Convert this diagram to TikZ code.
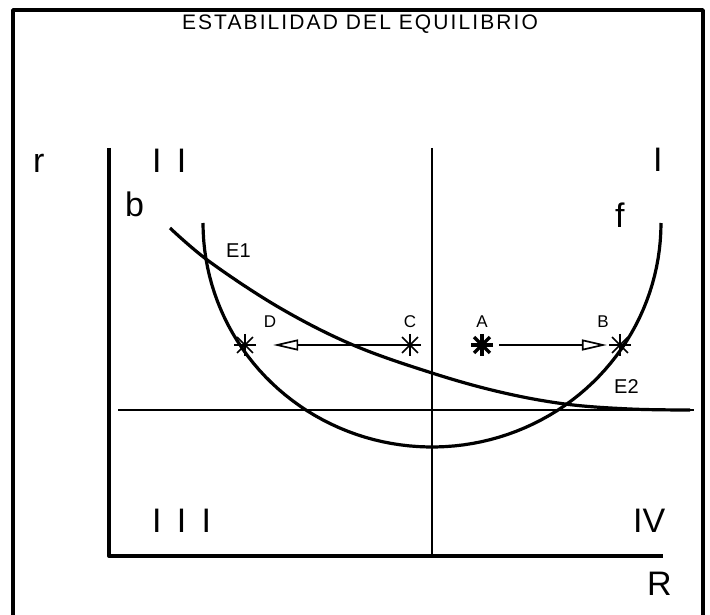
\documentclass[tikz,border=0pt]{standalone}
\usepackage{fontspec}
\setmainfont{Liberation Sans}
\newfontfamily\titlefont[LetterSpace=10]{Liberation Sans}
\newfontfamily\romanfont[LetterSpace=45]{Liberation Sans}
\usetikzlibrary{arrows.meta}
\begin{document}
\begin{tikzpicture}[x=1pt, y=-1pt, line join=round,
        curve/.style={line width=3.2pt},
        guide/.style={line width=1.7pt},
        star/.style={circle, inner sep=0pt, minimum size=22pt},
        ptlabel/.style={font=\fontsize{17}{17}\selectfont, inner sep=0pt},
        eqlabel/.style={font=\fontsize{20}{20}\selectfont, inner sep=0pt, anchor=base west},
        quadlabel/.style={font=\fontsize{34}{34}\romanfont, inner sep=0pt, anchor=base west},
        varlabel/.style={font=\fontsize{34}{34}\selectfont, inner sep=0pt, anchor=base west},
        push/.style={guide, -{Triangle[open, length=25pt, width=11pt, line width=1.7pt]}}]
    \useasboundingbox (0,0) rectangle (710,615);
    \draw[line width=3.5pt] (13,615) -- (13,10) -- (703,10) -- (703,615);
    \node[font=\fontsize{21}{21}\titlefont, inner sep=0pt] (title) at (360,24) {ESTABILIDAD DEL EQUILIBRIO};
    % axes and quadrants
    \draw[line width=4pt] (109,148) -- (109,556) -- (663,556);
    \draw[guide] (432,148) -- (432,556);
    \draw[guide] (118,410) -- (694,410);
    \node[varlabel] (r) at (33,173) {r};
    \node[varlabel] (R) at (647,595) {R};
    \node[quadlabel] (q2) at (152,173) {II};
    \node[quadlabel] (q1) at (653,172) {I};
    \node[quadlabel] (q3) at (152,532) {III};
    \node[varlabel] (q4) at (633,532) {IV};
    % curves
    \draw[curve] plot[domain=180:360, samples=80] ({432+229*cos(\x)}, {223-224*sin(\x)});
    \draw[curve] plot[smooth, tension=0.6] coordinates {(170,228) (210,262) (280,308) (353,345)
        (432,373) (500,392) (565,404) (630,409) (690,410)};
    \node[varlabel] (b) at (125,217) {b};
    \node[varlabel] (f) at (615,227) {f};
    \node[eqlabel] (E1) at (226,258) {E1};
    \node[eqlabel] (E2) at (614,393) {E2};
    % points
    \foreach \name/\x/\dx/\w in {D/245/25/1.7, C/410/0/1.7, A/482/0/3.4, B/620/-17/1.7} {
        \node[star] (\name) at (\x,345) {};
        \foreach \a in {0,45,90,135}
            \draw[line width=\w pt] (\name.\a) -- (\name.\a+180);
        \node[ptlabel] (lab-\name) at (\x+\dx,322) {\name};
    }
    \draw[push, shorten >=17pt] (C) -- (D);
    \draw[push, shorten <=6pt, shorten >=2pt] (A) -- (B);
\end{tikzpicture}
\end{document}
